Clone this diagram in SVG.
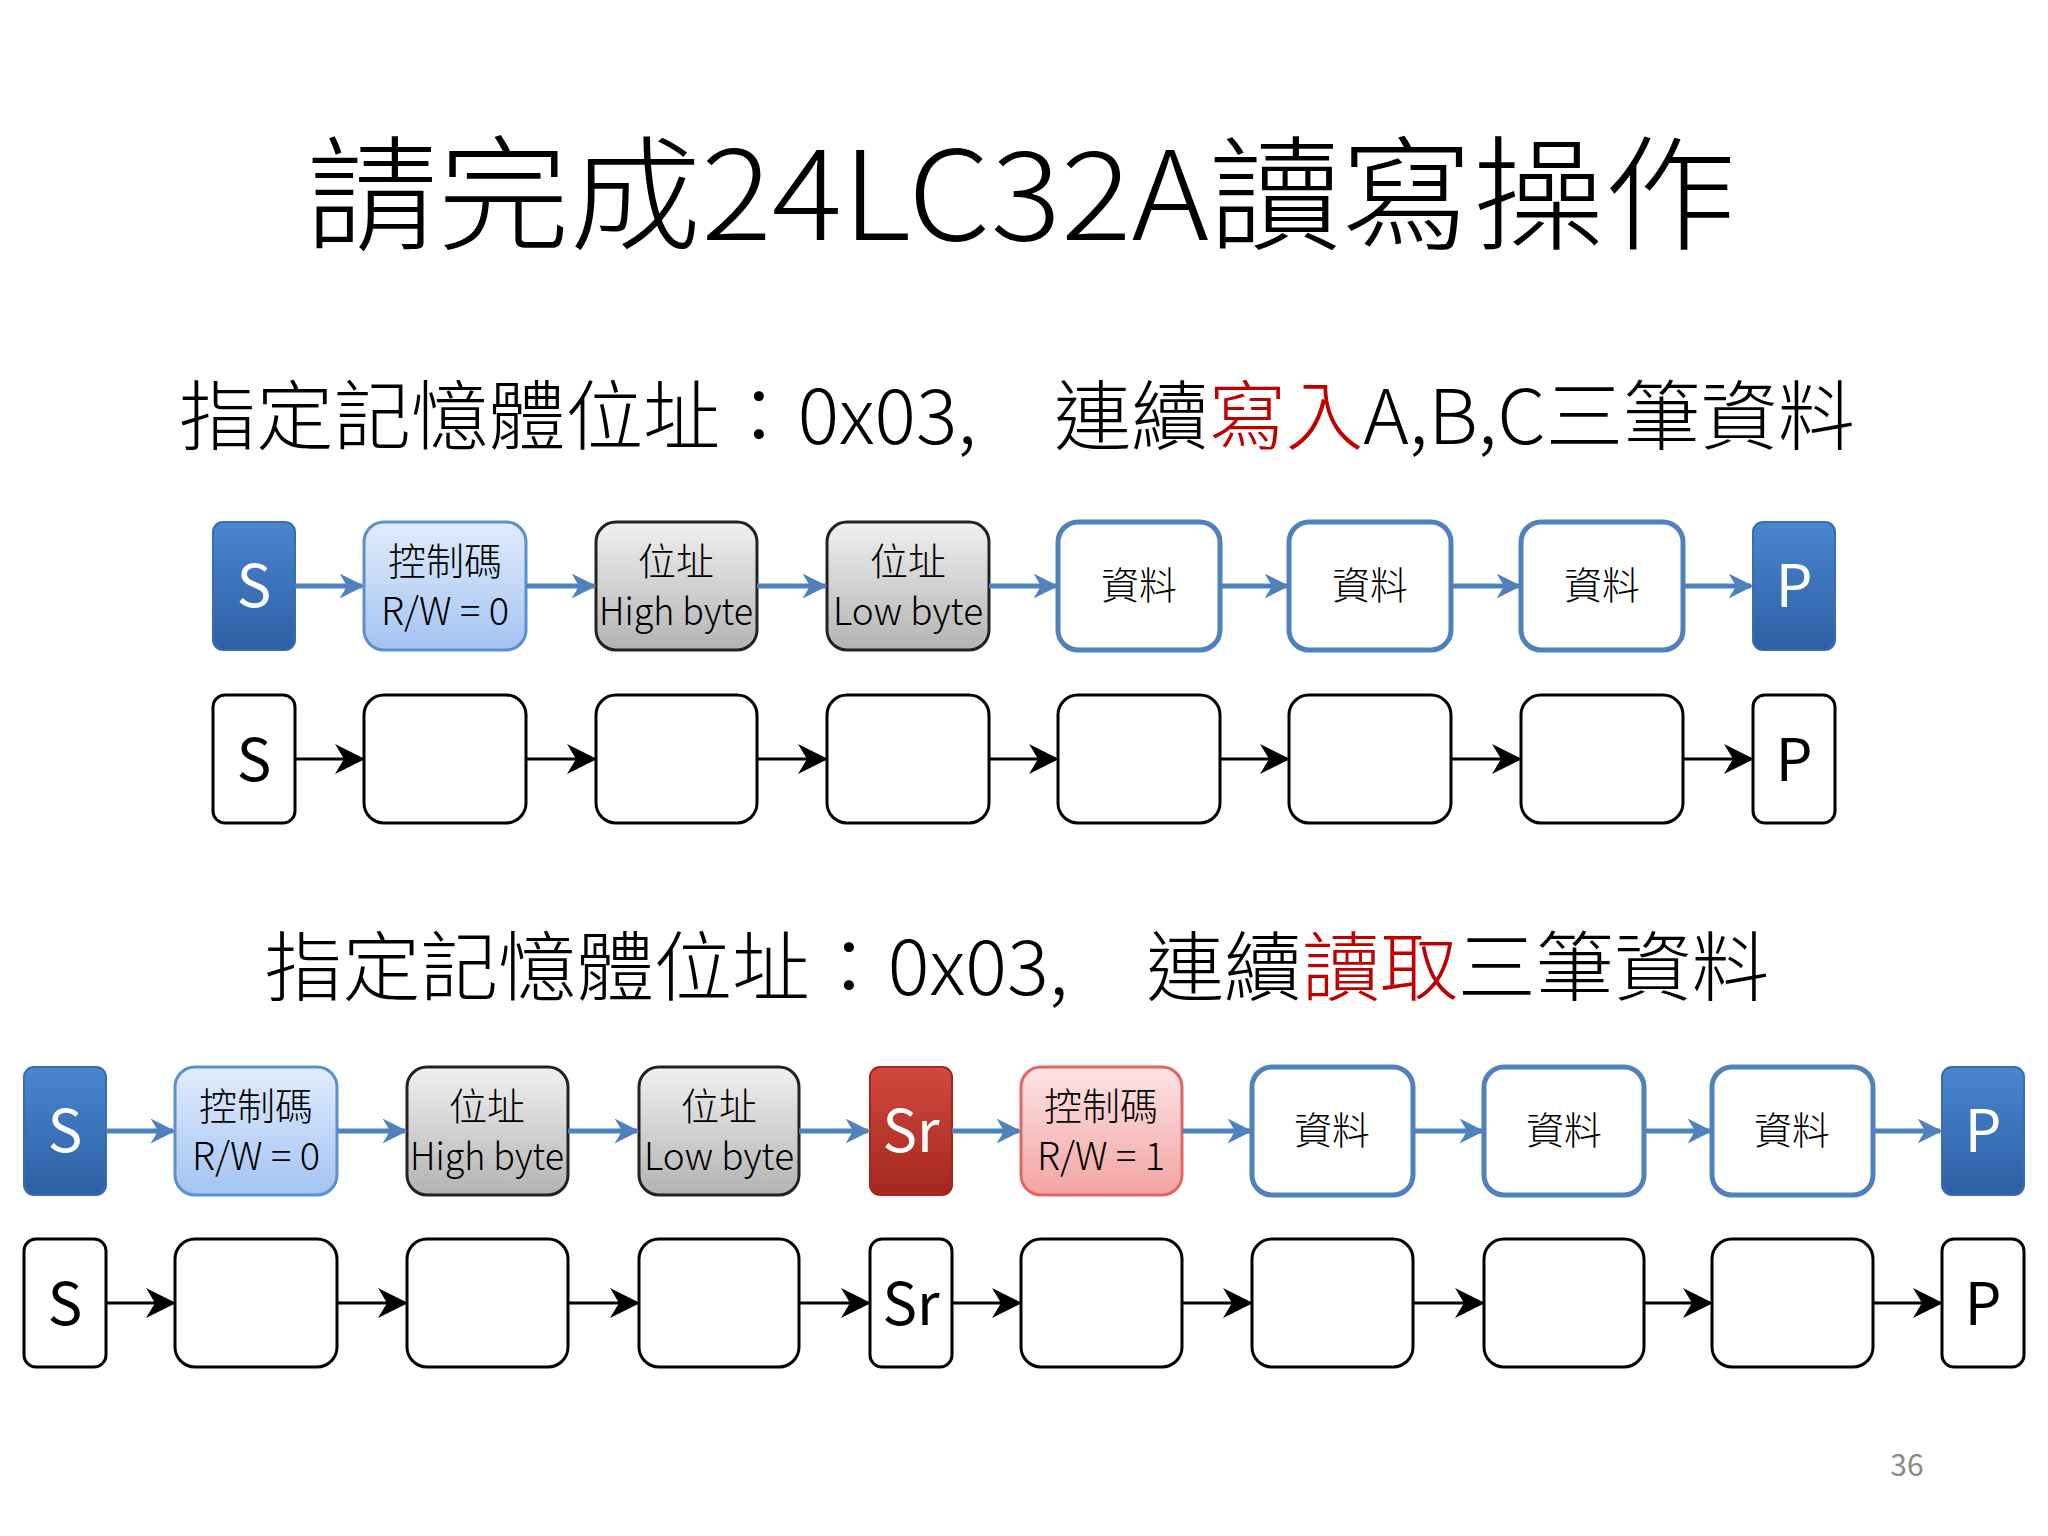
<svg xmlns="http://www.w3.org/2000/svg" width="2048" height="1536" viewBox="0 0 2048 1536">
<defs>
<linearGradient id="gB" x1="0" y1="0" x2="0" y2="1"><stop offset="0" stop-color="#4a86cf"/><stop offset="1" stop-color="#2c5fa3"/></linearGradient>
<linearGradient id="gL" x1="0" y1="0" x2="0" y2="1"><stop offset="0" stop-color="#e2ecfc"/><stop offset="1" stop-color="#a3c3f3"/></linearGradient>
<linearGradient id="gG" x1="0" y1="0" x2="0" y2="1"><stop offset="0" stop-color="#f0f0f0"/><stop offset="1" stop-color="#b3b3b3"/></linearGradient>
<linearGradient id="gR" x1="0" y1="0" x2="0" y2="1"><stop offset="0" stop-color="#d2493e"/><stop offset="1" stop-color="#a3271f"/></linearGradient>
<linearGradient id="gP" x1="0" y1="0" x2="0" y2="1"><stop offset="0" stop-color="#fde4e4"/><stop offset="1" stop-color="#f3a3a3"/></linearGradient>
<marker id="aB" viewBox="0 0 10 10" refX="9" refY="5" markerWidth="5" markerHeight="5" orient="auto" markerUnits="strokeWidth"><path d="M0,0 L10,5 L0,10 L3,5 Z" fill="#4f81bd"/></marker>
<marker id="aK" viewBox="0 0 10 10" refX="9" refY="5" markerWidth="10" markerHeight="10" orient="auto" markerUnits="strokeWidth"><path d="M0,0 L10,5 L0,10 L3,5 Z" fill="#000"/></marker>
</defs>
<style>
text{font-family:"Noto Sans CJK TC","Noto Sans",sans-serif;text-anchor:middle}
.n{font-size:38px;font-weight:300}
.big{font-size:58px}
.w{fill:#fff}
.sb{fill:url(#gB);stroke:#3a6db0;stroke-width:2}
.sl{fill:url(#gL);stroke:#5b8fd0;stroke-width:3}
.sg{fill:url(#gG);stroke:#222;stroke-width:3}
.sr{fill:url(#gR);stroke:#a3271f;stroke-width:2}
.sp{fill:url(#gP);stroke:#e06666;stroke-width:3}
.sd{fill:#fff;stroke:#4f81bd;stroke-width:5}
.e{fill:#fff;stroke:#000;stroke-width:3}
.cb line{stroke:#4f81bd;stroke-width:5;marker-end:url(#aB)}
.ck line{stroke:#000;stroke-width:3;marker-end:url(#aK)}
.red{fill:#c00000}
.sub{font-size:76px;font-weight:300}
</style>
<text x="1021" y="240" font-size="124" font-weight="300" textLength="1430" lengthAdjust="spacingAndGlyphs">請完成24LC32A讀寫操作</text>
<text class="sub" x="1017" y="444" textLength="1676" lengthAdjust="spacingAndGlyphs">指定記憶體位址：0x03,　連續<tspan class="red">寫入</tspan>A,B,C三筆資料</text>
<text class="sub" x="1017" y="995" textLength="1505" lengthAdjust="spacingAndGlyphs">指定記憶體位址：0x03,　連續<tspan class="red">讀取</tspan>三筆資料</text>
<text x="1907" y="1476" font-size="30" fill="#888">36</text>

<g id="r1-S"><rect class="sb" x="213" y="522" width="82" height="128" rx="10"/><text class="big w" x="254" y="607">S</text></g>
<g id="r1-ctrl"><rect class="sl" x="364" y="522" width="162" height="128" rx="20"/><text class="n" x="445" y="575">控制碼</text><text class="n" x="445" y="625">R/W = 0</text></g>
<g id="r1-high"><rect class="sg" x="596" y="522" width="161" height="128" rx="20"/><text class="n" x="676" y="575">位址</text><text class="n" x="676" y="625" textLength="154" lengthAdjust="spacingAndGlyphs">High byte</text></g>
<g id="r1-low"><rect class="sg" x="827" y="522" width="162" height="128" rx="20"/><text class="n" x="908" y="575">位址</text><text class="n" x="908" y="625" textLength="150" lengthAdjust="spacingAndGlyphs">Low byte</text></g>
<g id="r1-d1"><rect class="sd" x="1058" y="522" width="162" height="128" rx="20"/><text class="n" x="1139" y="599">資料</text></g>
<g id="r1-d2"><rect class="sd" x="1289" y="522" width="162" height="128" rx="20"/><text class="n" x="1370" y="599">資料</text></g>
<g id="r1-d3"><rect class="sd" x="1521" y="522" width="162" height="128" rx="20"/><text class="n" x="1602" y="599">資料</text></g>
<g id="r1-P"><rect class="sb" x="1753" y="522" width="82" height="128" rx="10"/><text class="big w" x="1794" y="607">P</text></g>

<g id="r2-S"><rect class="e" x="213" y="695" width="82" height="128" rx="12"/><text class="big" x="254" y="781">S</text></g>
<g id="r2-b1"><rect class="e" x="364" y="695" width="162" height="128" rx="20"/></g>
<g id="r2-b2"><rect class="e" x="596" y="695" width="161" height="128" rx="20"/></g>
<g id="r2-b3"><rect class="e" x="827" y="695" width="162" height="128" rx="20"/></g>
<g id="r2-b4"><rect class="e" x="1058" y="695" width="162" height="128" rx="20"/></g>
<g id="r2-b5"><rect class="e" x="1289" y="695" width="162" height="128" rx="20"/></g>
<g id="r2-b6"><rect class="e" x="1521" y="695" width="162" height="128" rx="20"/></g>
<g id="r2-P"><rect class="e" x="1753" y="695" width="82" height="128" rx="12"/><text class="big" x="1794" y="781">P</text></g>

<g id="r3-S"><rect class="sb" x="24" y="1067" width="82" height="128" rx="10"/><text class="big w" x="65" y="1152">S</text></g>
<g id="r3-ctrl"><rect class="sl" x="175" y="1067" width="162" height="128" rx="20"/><text class="n" x="256" y="1120">控制碼</text><text class="n" x="256" y="1170">R/W = 0</text></g>
<g id="r3-high"><rect class="sg" x="407" y="1067" width="161" height="128" rx="20"/><text class="n" x="487" y="1120">位址</text><text class="n" x="487" y="1170" textLength="154" lengthAdjust="spacingAndGlyphs">High byte</text></g>
<g id="r3-low"><rect class="sg" x="639" y="1067" width="160" height="128" rx="20"/><text class="n" x="719" y="1120">位址</text><text class="n" x="719" y="1170" textLength="150" lengthAdjust="spacingAndGlyphs">Low byte</text></g>
<g id="r3-Sr"><rect class="sr" x="870" y="1067" width="82" height="128" rx="10"/><text class="big w" x="911" y="1152">Sr</text></g>
<g id="r3-ctrl2"><rect class="sp" x="1021" y="1067" width="161" height="128" rx="20"/><text class="n" x="1101" y="1120">控制碼</text><text class="n" x="1101" y="1170">R/W = 1</text></g>
<g id="r3-d1"><rect class="sd" x="1252" y="1067" width="161" height="128" rx="20"/><text class="n" x="1332" y="1144">資料</text></g>
<g id="r3-d2"><rect class="sd" x="1484" y="1067" width="160" height="128" rx="20"/><text class="n" x="1564" y="1144">資料</text></g>
<g id="r3-d3"><rect class="sd" x="1712" y="1067" width="161" height="128" rx="20"/><text class="n" x="1792" y="1144">資料</text></g>
<g id="r3-P"><rect class="sb" x="1942" y="1067" width="82" height="128" rx="10"/><text class="big w" x="1983" y="1152">P</text></g>

<g id="r4-S"><rect class="e" x="24" y="1239" width="82" height="128" rx="12"/><text class="big" x="65" y="1325">S</text></g>
<g id="r4-b1"><rect class="e" x="175" y="1239" width="162" height="128" rx="20"/></g>
<g id="r4-b2"><rect class="e" x="407" y="1239" width="161" height="128" rx="20"/></g>
<g id="r4-b3"><rect class="e" x="639" y="1239" width="160" height="128" rx="20"/></g>
<g id="r4-Sr"><rect class="e" x="870" y="1239" width="82" height="128" rx="12"/><text class="big" x="911" y="1325">Sr</text></g>
<g id="r4-b4"><rect class="e" x="1021" y="1239" width="161" height="128" rx="20"/></g>
<g id="r4-b5"><rect class="e" x="1252" y="1239" width="161" height="128" rx="20"/></g>
<g id="r4-b6"><rect class="e" x="1484" y="1239" width="160" height="128" rx="20"/></g>
<g id="r4-b7"><rect class="e" x="1712" y="1239" width="161" height="128" rx="20"/></g>
<g id="r4-P"><rect class="e" x="1942" y="1239" width="82" height="128" rx="12"/><text class="big" x="1983" y="1325">P</text></g>

<g id="connectors">
<g class="cb">
<line x1="295" y1="586" x2="362" y2="586"/><line x1="526" y1="586" x2="594" y2="586"/><line x1="757" y1="586" x2="825" y2="586"/><line x1="989" y1="586" x2="1056" y2="586"/><line x1="1220" y1="586" x2="1287" y2="586"/><line x1="1451" y1="586" x2="1519" y2="586"/><line x1="1683" y1="586" x2="1751" y2="586"/>
<line x1="106" y1="1131" x2="173" y2="1131"/><line x1="337" y1="1131" x2="405" y2="1131"/><line x1="568" y1="1131" x2="637" y2="1131"/><line x1="799" y1="1131" x2="868" y2="1131"/><line x1="952" y1="1131" x2="1019" y2="1131"/><line x1="1182" y1="1131" x2="1250" y2="1131"/><line x1="1413" y1="1131" x2="1482" y2="1131"/><line x1="1644" y1="1131" x2="1710" y2="1131"/><line x1="1873" y1="1131" x2="1940" y2="1131"/>
</g>
<g class="ck">
<line x1="295" y1="759" x2="362" y2="759"/><line x1="526" y1="759" x2="594" y2="759"/><line x1="757" y1="759" x2="825" y2="759"/><line x1="989" y1="759" x2="1056" y2="759"/><line x1="1220" y1="759" x2="1287" y2="759"/><line x1="1451" y1="759" x2="1519" y2="759"/><line x1="1683" y1="759" x2="1751" y2="759"/>
<line x1="106" y1="1303" x2="173" y2="1303"/><line x1="337" y1="1303" x2="405" y2="1303"/><line x1="568" y1="1303" x2="637" y2="1303"/><line x1="799" y1="1303" x2="868" y2="1303"/><line x1="952" y1="1303" x2="1019" y2="1303"/><line x1="1182" y1="1303" x2="1250" y2="1303"/><line x1="1413" y1="1303" x2="1482" y2="1303"/><line x1="1644" y1="1303" x2="1710" y2="1303"/><line x1="1873" y1="1303" x2="1940" y2="1303"/>
</g>
</g>
</svg>
